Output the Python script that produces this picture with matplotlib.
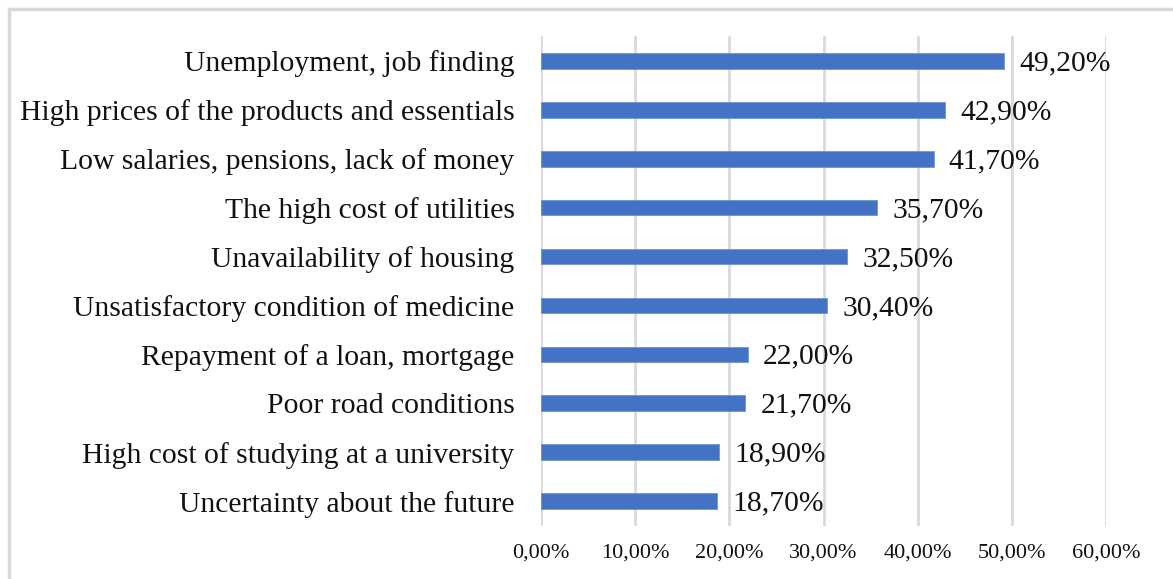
import matplotlib.pyplot as plt
from matplotlib.patches import Rectangle
from matplotlib.ticker import FuncFormatter

categories = [
    "Unemployment, job finding",
    "High prices of the products and essentials",
    "Low salaries, pensions, lack of money",
    "The high cost of utilities",
    "Unavailability of housing",
    "Unsatisfactory condition of medicine",
    "Repayment of a loan, mortgage",
    "Poor road conditions",
    "High cost of studying at a university",
    "Uncertainty about the future",
]
shares = [49.2, 42.9, 41.7, 35.7, 32.5, 30.4, 22.0, 21.7, 18.9, 18.7]
x_ticks = [0, 10, 20, 30, 40, 50, 60]

plt.rcParams['font.family'] = ['Liberation Serif', 'DejaVu Serif']

fig = plt.figure(figsize=(11.73, 5.79), dpi=100)
ax = fig.add_axes([0.4612, 0.0924, 0.4817, 0.8446])

# light frame around the chart area
fig.patches.append(Rectangle((0.0075, -0.05), 1.2, 1.035, transform=fig.transFigure,
                             fill=False, edgecolor='#d9d9d9', linewidth=2.5))

ypos = list(range(len(categories)))[::-1]
ax.barh(ypos, shares, height=0.32, color='#4472C4', edgecolor='#6f93d3',
        linewidth=0.6, zorder=3)

def fmt_pct(v):
    return f"{v:.2f}".replace('.', ',') + '%'

for y, v in zip(ypos, shares):
    ax.text(v + 1.6, y - 0.05, fmt_pct(v), va='center', ha='left', fontsize=21.3,
            color='#111111')

ax.set_xlim(0, 60)
ax.set_ylim(-0.5, len(categories) - 0.5)
ax.set_xticks(x_ticks)
ax.xaxis.set_major_formatter(FuncFormatter(lambda v, p: fmt_pct(v)))
ax.set_yticks(ypos)
ax.set_yticklabels(categories)
ax.tick_params(axis='y', length=0, pad=19, labelsize=21.3, labelcolor='#111111')
ax.tick_params(axis='x', length=0, pad=13, labelsize=16, labelcolor='#111111')
ax.grid(axis='x', color='#d9d9d9', linewidth=2, zorder=0)
for s in ax.spines.values():
    s.set_visible(False)

fig.savefig('out.png', dpi=100)
